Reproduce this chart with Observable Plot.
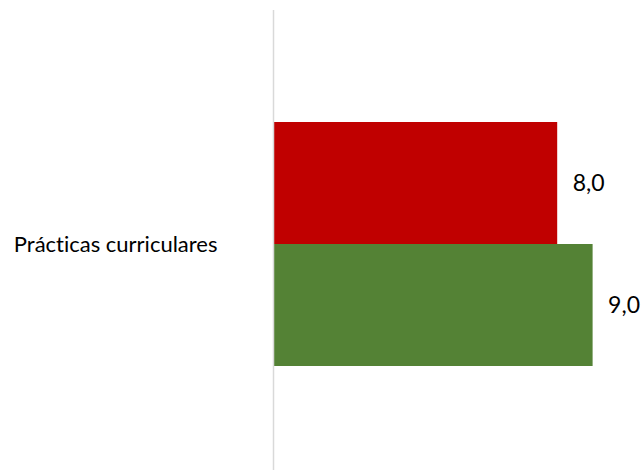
<!DOCTYPE html>
<html>
<head>
<meta charset="utf-8">
<script src="https://cdn.jsdelivr.net/npm/d3@7"></script>
<script src="https://cdn.jsdelivr.net/npm/@observablehq/plot@0.6"></script>
<style>
  html, body { margin: 0; padding: 0; background: #fff; }
  #chart svg { display: block; font-variant-ligatures: none; }
</style>
</head>
<body>
<div id="chart"></div>
<script>
const categories = ["Prácticas curriculares"];
const series = ["Serie 1", "Serie 2"];
const values = [8.0, 9.0];
const colors = ["#C00000", "#548235"];

const data = series.map((s, i) => ({category: categories[0], series: s, value: values[i]}));
const fmt = v => v.toFixed(1).replace(".", ",");

const chart = Plot.plot({
  width: 644,
  height: 470,
  marginLeft: 274,
  marginRight: 16,
  marginTop: 0,
  marginBottom: 0,
  style: {fontFamily: "Lato, sans-serif", fontSize: "18px", color: "#000", background: "#fff"},
  x: {domain: [0, 10], axis: null},
  fy: {domain: categories, range: [10, 478], padding: 0, label: null},
  y: {domain: series, paddingInner: 0, paddingOuter: 0.91, axis: null},
  color: {domain: series, range: colors},
  marks: [
    Plot.axisFy({anchor: "left", tickSize: 0, tickPadding: 57, label: null, fontSize: 22}),
    Plot.barX(data, {fy: "category", y: "series", x: "value", fill: "series"}),
    Plot.ruleX([0], {stroke: "#d9d9d9", strokeWidth: 1.5, dx: -1}),
    Plot.text(data, {fy: "category", y: "series", x: "value", text: d => fmt(d.value), textAnchor: "start", dx: 15, fontSize: 23, fill: "#000"})
  ]
});
document.getElementById("chart").appendChild(chart);
</script>
</body>
</html>
